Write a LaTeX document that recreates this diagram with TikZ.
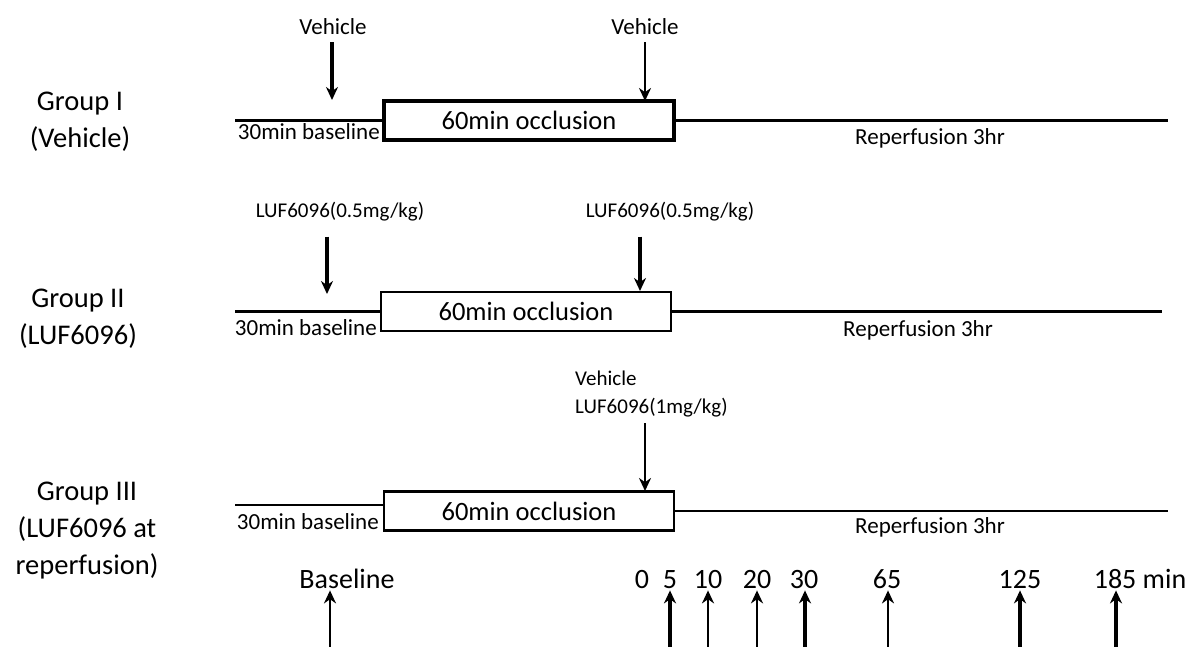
\documentclass[tikz,border=0pt]{standalone}
\usepackage{fontspec}
\setmainfont{Carlito}
\usetikzlibrary{arrows.meta}

\begin{document}
\begin{tikzpicture}[x=1pt,y=-1pt,
  grp/.style={align=center,font=\fontsize{28.5}{37}\selectfont},
  lbl/.style={inner sep=1pt,font=\fontsize{23}{28}\selectfont},
  dose/.style={lbl,font=\fontsize{21}{28}\selectfont},
  occl/.style={draw,minimum width=290pt,minimum height=39pt,inner sep=0pt,font=\fontsize{26.5}{28}\selectfont},
  tick/.style={anchor=base,inner sep=2pt,font=\fontsize{28}{30}\selectfont},
  thk/.style={line width=3.8pt},
  thn/.style={line width=2.4pt},
  dn/.style={-{Stealth[length=13pt,width=12pt]}},
  ]
  \useasboundingbox (0,0) rectangle (1191,647);

  % Group I
  \node[grp] (g1) at (80,122) {Group I\\(Vehicle)};
  \node[occl,thk] (o1) at (529,120.5) {60min occlusion};
  \coordinate (s1) at (235,120.5);
  \coordinate (e1) at (1168,0);
  \draw[thk] (s1) -- (o1.west);
  \draw[thk] (o1.east) -- (o1.east -| e1);
  \node[lbl,anchor=east] (b1) at (381,132) {30min baseline};
  \node[lbl] (r1) at (930,138) {Reperfusion 3hr};
  \node[lbl] (v1) at (333,27) {Vehicle};
  \node[lbl] (v2) at (645,27) {Vehicle};
  \coordinate (p1) at (332,100);
  \coordinate (p2) at (645,101);
  \draw[dn,thk,shorten <=6pt] (v1.south -| p1) -- (p1);
  \draw[dn,thn,shorten <=6pt] (v2.south -| p2) -- (p2);

  % Group II
  \node[grp] (g2) at (78,319) {Group II\\(LUF6096)};
  \node[occl,thn] (o2) at (526,311.5) {60min occlusion};
  \coordinate (s2) at (235,311.5);
  \coordinate (e2) at (1162,0);
  \draw[thn] (s2) -- (o2.west);
  \draw[thn] (o2.east) -- (o2.east -| e2);
  \node[lbl,anchor=east] (b2) at (378,328) {30min baseline};
  \node[lbl] (r2) at (918,330) {Reperfusion 3hr};
  \node[dose] (l1) at (340,212) {LUF6096(0.5mg/kg)};
  \node[dose] (l2) at (670,212) {LUF6096(0.5mg/kg)};
  \coordinate (p3) at (327,294);
  \coordinate (p4) at (640,291);
  \draw[dn,thk,shorten <=14pt] (l1.south -| p3) -- (p3);
  \draw[dn,thk,shorten <=14pt] (l2.south -| p4) -- (p4);

  % Group III
  \node[grp] (g3) at (87,531) {Group III\\(LUF6096 at\\reperfusion)};
  \node[occl,thn] (o3) at (529,511) {60min occlusion};
  \coordinate (s3) at (235,505);
  \draw[thn] (s3) -- (s3 -| o3.west);
  \draw[thn] (o3.east) -- (o3.east -| e1);
  \node[lbl,anchor=east] (b3) at (380,522) {30min baseline};
  \node[lbl] (r3) at (930,527) {Reperfusion 3hr};
  \node[dose,align=left,anchor=west] (v3) at (574,394) {Vehicle\\LUF6096(1mg/kg)};
  \coordinate (p5) at (645,491);
  \draw[dn,thn,shorten <=5pt] (v3.south -| p5) -- (p5);

  % sampling times
  \node[tick] (tb) at (347,588) {Baseline};
  \foreach \t/\x in {0/642,5/670,10/708,20/757,30/804,65/887,125/1020}
    \node[tick] (t\t) at (\x,588) {\t};
  \node[tick] (t185) at (1140,588) {185 min};
  \foreach \t/\x/\w in {b/330/thn,5/670/thk,10/708/thn,20/757/thn,30/805/thk,65/888/thn,125/1020/thk,185/1116/thk}
    \draw[dn,\w] (\x,647) coordinate (a\t) -- (a\t |- t\t.south);
\end{tikzpicture}
\end{document}
